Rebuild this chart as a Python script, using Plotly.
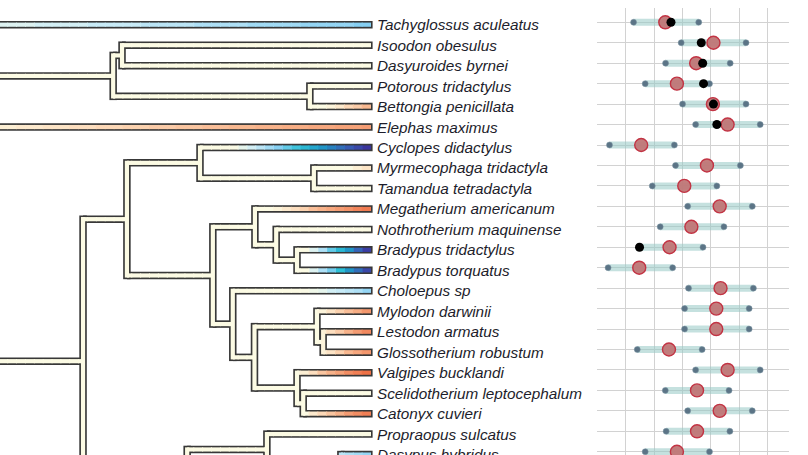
import math
import plotly.graph_objects as go

# ---------------- data ----------------
# tips from top to bottom (the last ones lie below the visible frame)
tip_labels = [
    "Tachyglossus aculeatus", "Isoodon obesulus", "Dasyuroides byrnei",
    "Potorous tridactylus", "Bettongia penicillata", "Elephas maximus",
    "Cyclopes didactylus", "Myrmecophaga tridactyla", "Tamandua tetradactyla",
    "Megatherium americanum", "Nothrotherium maquinense", "Bradypus tridactylus",
    "Bradypus torquatus", "Choloepus sp", "Mylodon darwinii", "Lestodon armatus",
    "Glossotherium robustum", "Valgipes bucklandi", "Scelidotherium leptocephalum",
    "Catonyx cuvieri", "Propraopus sulcatus", "Dasypus hybridus",
    "Dasypus novemcinctus", "Cabassous unicinctus", "Tolypeutes matacus",
    "Euphractus sexcinctus", "Chaetophractus villosus", "Zaedyus pichiy",
    "Priodontes maximus", "Glyptodon clavipes", "Panochthus tuberculatus",
    "Doedicurus clavicaudatus", "Neosclerocalyptus sp",
]
# mapped continuous trait (scaled -1 .. 1)
tip_trait = [
    -0.47, 0.05, 0.02, 0.08, 0.52, 0.62,
    -1.00, 0.35, 0.08,
    0.82, 0.05, -1.00,
    -0.98, -0.46, 0.68, 0.78,
    0.70, 0.90, 0.10,
    0.82, 0.02, -0.45,
    -0.45, 0.0, 0.0,
    0.0, 0.0, 0.0,
    0.0, 0.0, 0.0,
    0.0, 0.0,
]

# internal nodes: name, age (Myr), trait estimate, children
node_names = [
    "Mammalia", "Theria", "Marsupialia", "Clade_A", "Clade_B", "Placentalia",
    "Xenarthra", "Pilosa", "Vermilingua", "Myrmecophagidae", "Folivora",
    "Megatherioidea", "Clade_E", "Bradypus", "Mylodontoidea", "Clade_G",
    "Mylodontidae", "Clade_I", "Scelidotheriidae", "Clade_K", "Cingulata",
    "Clade_P", "Dasypus", "Clade_Q", "Clade_Q1", "Clade_Q2", "Clade_Q2a",
    "Clade_Q2b", "Clade_Q2a1", "Clade_Q2a2", "Clade_Q2b1", "Clade_Q2b2",
]
node_ages = [
    170.0, 150.0, 58.2, 56.2, 13.8, 100.0,
    65.0, 55.1, 38.6, 12.9, 35.7,
    26.2, 21.4, 16.7, 31.2, 26.3,
    12.2, 10.8, 16.7, 15.3, 41.5,
    23.5, 6.8, 35.0, 20.0, 30.0, 22.0,
    25.0, 10.0, 12.0, 15.0, 14.0,
]
node_trait = [
    -0.12, 0.05, 0.05, 0.05, 0.10, 0.20,
    0.00, -0.05, -0.05, 0.05, 0.05,
    0.10, -0.05, -0.10, 0.05, 0.10,
    0.20, 0.25, 0.20, 0.20, 0.00,
    0.00, -0.38, 0.0, 0.0, 0.0, 0.0,
    0.0, 0.0, 0.0, 0.0, 0.0,
]
node_children = [
    ("Tachyglossus aculeatus", "Theria"),
    ("Marsupialia", "Placentalia"),
    ("Clade_A", "Clade_B"),
    ("Isoodon obesulus", "Dasyuroides byrnei"),
    ("Potorous tridactylus", "Bettongia penicillata"),
    ("Elephas maximus", "Xenarthra"),
    ("Pilosa", "Cingulata"),
    ("Vermilingua", "Folivora"),
    ("Cyclopes didactylus", "Myrmecophagidae"),
    ("Myrmecophaga tridactyla", "Tamandua tetradactyla"),
    ("Megatherioidea", "Mylodontoidea"),
    ("Megatherium americanum", "Clade_E"),
    ("Nothrotherium maquinense", "Bradypus"),
    ("Bradypus tridactylus", "Bradypus torquatus"),
    ("Choloepus sp", "Clade_G"),
    ("Mylodontidae", "Scelidotheriidae"),
    ("Mylodon darwinii", "Clade_I"),
    ("Lestodon armatus", "Glossotherium robustum"),
    ("Valgipes bucklandi", "Clade_K"),
    ("Scelidotherium leptocephalum", "Catonyx cuvieri"),
    ("Clade_P", "Clade_Q"),
    ("Propraopus sulcatus", "Dasypus"),
    ("Dasypus hybridus", "Dasypus novemcinctus"),
    ("Clade_Q1", "Clade_Q2"),
    ("Cabassous unicinctus", "Tolypeutes matacus"),
    ("Clade_Q2a", "Clade_Q2b"),
    ("Clade_Q2a1", "Clade_Q2a2"),
    ("Clade_Q2b1", "Clade_Q2b2"),
    ("Euphractus sexcinctus", "Chaetophractus villosus"),
    ("Zaedyus pichiy", "Priodontes maximus"),
    ("Glyptodon clavipes", "Panochthus tuberculatus"),
    ("Doedicurus clavicaudatus", "Neosclerocalyptus sp"),
]

# right panel: interval estimates for the visible tips (rows 0..21)
est_lower = [1.27, 2.95, 2.40, 1.68, 3.00, 3.46, 0.42, 2.75, 1.93, 3.18, 2.21,
             1.51, 0.37, 3.21, 3.07, 3.07, 1.40, 3.46, 2.39, 3.18, 2.42, 1.68]
est_mean = [2.39, 4.09, 3.48, 2.80, 4.07, 4.59, 1.54, 3.86, 3.06, 4.31, 3.31,
            2.54, 1.47, 4.34, 4.19, 4.19, 2.52, 4.59, 3.51, 4.31, 3.51, 2.80]
est_upper = [3.57, 5.24, 4.68, 3.95, 5.24, 5.74, 2.71, 5.04, 4.21, 5.46, 4.46,
             3.72, 2.65, 5.50, 5.35, 5.35, 3.69, 5.74, 4.64, 5.46, 4.67, 3.95]
observed = [2.59, 3.66, 3.71, 3.74, 4.09, 4.21, None, None, None, None, None,
            1.48, None, None, None, None, None, None, None, None, None, None]
grid_ticks = [0, 1, 2, 3, 4, 5, 6]

# colour ramp for the trait
cmap_stops = [(-1.0, "#3b2a98"), (-0.86, "#3760b6"), (-0.73, "#1f93c6"),
              (-0.60, "#2cc0d6"), (-0.47, "#8ad1f4"), (-0.34, "#cdedf7"),
              (-0.22, "#fcfbe4"), (0.22, "#fcfbe4"), (0.36, "#fcdcbc"),
              (0.50, "#f8b890"), (0.64, "#f4996f"), (0.80, "#f07a50"),
              (1.00, "#e8582a")]

# ---------------- helpers ----------------
W, H = 808, 455
PX_PER_MYR = 4.43
TIP_PX = 371.0
ROW0_PX, ROW_PX = 24.7, 20.47


def hex2rgb(h):
    h = h.lstrip("#")
    return tuple(int(h[i:i + 2], 16) for i in (0, 2, 4))


def cmap(v):
    v = max(-1.0, min(1.0, v))
    for (a, ca), (b, cb) in zip(cmap_stops[:-1], cmap_stops[1:]):
        if a <= v <= b:
            t = 0 if b == a else (v - a) / (b - a)
            r1, g1, b1 = hex2rgb(ca)
            r2, g2, b2 = hex2rgb(cb)
            return "rgb(%d,%d,%d)" % (round(r1 + (r2 - r1) * t),
                                      round(g1 + (g2 - g1) * t),
                                      round(b1 + (b2 - b1) * t))
    return cmap_stops[-1][1]


NBINS = 80


def vbin(v):
    return int(round((max(-1, min(1, v)) + 1) / 2 * NBINS))


def bincolor(k):
    return cmap(k / NBINS * 2 - 1)


age = {n: a for n, a in zip(node_names, node_ages)}
val = {n: v for n, v in zip(node_names, node_trait)}
kids = {n: c for n, c in zip(node_names, node_children)}
row = {}
for i, t in enumerate(tip_labels):
    age[t] = 0.0
    val[t] = tip_trait[i]
    row[t] = float(i)


def ypos(n):
    if n in row:
        return row[n]
    y = sum(ypos(c) for c in kids[n]) / len(kids[n])
    row[n] = y
    return y


ypos("Mammalia")

out_w, in_w = 7.5, 4.2
v_ext_out = (out_w / 2) / ROW_PX
v_ext_in = (in_w / 2) / ROW_PX
tip_cap = 1.6 / PX_PER_MYR
STEP = 2.0

ox, oy = [], []
bins = {}


def add_seg(k, xs, ys):
    b = bins.setdefault(k, ([], []))
    b[0].extend(xs + [None])
    b[1].extend(ys + [None])


for n in node_names:
    a0, v0 = age[n], val[n]
    ys = [row[c] for c in kids[n]]
    y0, y1 = min(ys), max(ys)
    ox.extend([a0, a0, None])
    oy.extend([y0 - v_ext_out, y1 + v_ext_out, None])
    add_seg(vbin(v0), [a0, a0], [y0 - v_ext_in, y1 + v_ext_in])
    for c in kids[n]:
        a1, v1, yc = age[c], val[c], row[c]
        is_tip = c in tip_labels
        ox.extend([a0, a1 - (tip_cap if is_tip else 0), None])
        oy.extend([yc, yc, None])
        bnds = [a0]
        k = math.floor(a0 / STEP)
        while k * STEP > a1:
            if k * STEP < a0:
                bnds.append(k * STEP)
            k -= 1
        bnds.append(a1)
        for b0, b1 in zip(bnds[:-1], bnds[1:]):
            mid = (b0 + b1) / 2
            fr = (a0 - mid) / (a0 - a1)
            v = v0 + (v1 - v0) * fr
            x0 = min(a0, b0 + 0.1)
            x1 = max(a1, b1 - 0.1)
            add_seg(vbin(v), [x0, x1], [yc, yc])

fig = go.Figure()
fig.add_trace(go.Scatter(x=ox, y=oy, mode="lines", hoverinfo="skip",
                         line=dict(color="#383838", width=out_w),
                         showlegend=False, xaxis="x", yaxis="y"))
for k in sorted(bins):
    xs, ys = bins[k]
    fig.add_trace(go.Scatter(x=xs, y=ys, mode="lines", hoverinfo="skip",
                             line=dict(color=bincolor(k), width=in_w),
                             showlegend=False, xaxis="x", yaxis="y"))

# ------------- right panel -------------
nvis = len(est_mean)
bx, by = [], []
for i in range(nvis):
    bx.extend([est_lower[i], est_upper[i], None])
    by.extend([i, i, None])
fig.add_trace(go.Scatter(x=bx, y=by, mode="lines", hoverinfo="skip",
                         line=dict(color="rgba(150,200,196,0.55)", width=7),
                         showlegend=False, xaxis="x2", yaxis="y2"))
fig.add_trace(go.Scatter(x=est_lower + est_upper,
                         y=list(range(nvis)) + list(range(nvis)),
                         mode="markers", showlegend=False, xaxis="x2", yaxis="y2",
                         marker=dict(size=6, color="#5b7486",
                                     line=dict(color="#7d95a3", width=0.5))))
fig.add_trace(go.Scatter(x=est_mean, y=list(range(nvis)), mode="markers",
                         showlegend=False, xaxis="x2", yaxis="y2",
                         marker=dict(size=13, color="rgba(192,118,118,0.95)",
                                     line=dict(color="#c23444", width=1.4))))
obs_x = [o for o in observed if o is not None]
obs_y = [i for i, o in enumerate(observed) if o is not None]
fig.add_trace(go.Scatter(x=obs_x, y=obs_y, mode="markers", showlegend=False,
                         xaxis="x2", yaxis="y2",
                         marker=dict(size=9, color="black")))

# ------------- labels -------------
annotations = []
for i, t in enumerate(tip_labels):
    annotations.append(dict(x=0, y=i, xref="x", yref="y", text=t,
                            showarrow=False, xanchor="left", yanchor="middle",
                            xshift=4,
                            font=dict(family="Liberation Sans, Arial, sans-serif",
                                      size=15.3, color="#1d1d2b", style="italic")))

x_left_age = TIP_PX / PX_PER_MYR
x_right_age = (TIP_PX - W) / PX_PER_MYR
y_top_row = -ROW0_PX / ROW_PX
y_bot_row = (H - ROW0_PX) / ROW_PX

P_LEFT, P_RIGHT, P_TOP = 597.3, 789.0, 8.0
R_ROW0, R_ROW = 22.3, 20.45
x2_span = (P_RIGHT - P_LEFT) / 28.33

fig.update_layout(
    width=W, height=H, margin=dict(l=0, r=0, t=0, b=0),
    paper_bgcolor="white", plot_bgcolor="rgba(0,0,0,0)",
    showlegend=False, annotations=annotations,
    xaxis=dict(domain=[0, 1], range=[x_left_age, x_right_age], visible=False,
               fixedrange=True),
    yaxis=dict(domain=[0, 1], range=[y_bot_row, y_top_row], visible=False,
               fixedrange=True),
    xaxis2=dict(domain=[P_LEFT / W, P_RIGHT / W], range=[-0.01, x2_span - 0.01],
                anchor="y2", tickvals=grid_ticks, showticklabels=False,
                showgrid=True, gridcolor="#d2d2d2", gridwidth=1.2,
                zeroline=False, showline=False, ticks="", fixedrange=True),
    yaxis2=dict(domain=[0, (H - P_TOP) / H],
                range=[(H - R_ROW0) / R_ROW, (P_TOP - R_ROW0) / R_ROW],
                anchor="x2", tickvals=list(range(nvis)), showticklabels=False,
                showgrid=True, gridcolor="#d2d2d2", gridwidth=1.2,
                zeroline=False, showline=False, ticks="", fixedrange=True),
)

fig.write_html("out.html", config={"displayModeBar": False},
               post_script="document.body.style.margin='0';"
                           "document.body.style.overflow='hidden';")
